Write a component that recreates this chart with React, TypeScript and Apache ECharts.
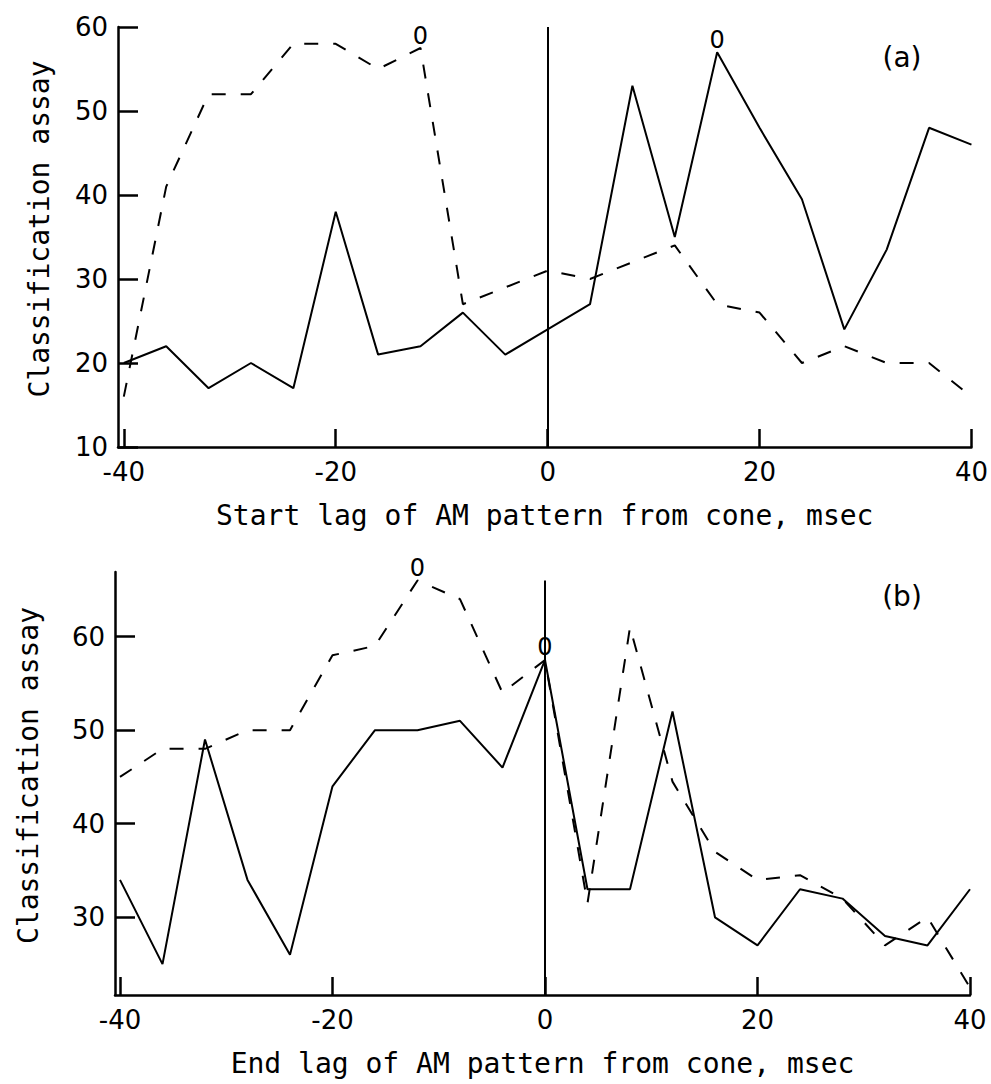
import React, { useEffect, useRef } from "react";
import * as echarts from "echarts";

// Lag values (msec), shared by both panels
const lags = [-40, -36, -32, -28, -24, -20, -16, -12, -8, -4, 0, 4, 8, 12, 16, 20, 24, 28, 32, 36, 40];
const xTicks = [-40, -20, 0, 20, 40];

// Panel (a): start lag
const startSolid = [20, 22, 17, 20, 17, 38, 21, 22, 26, 21, 24, 27, 53, 35, 57, 48, 39.5, 24, 33.5, 48, 46];
const startDashed = [16, 41, 52, 52, 58, 58, 55, 57.5, 27, 29, 31, 30, 32, 34, 27, 26, 20, 22, 20, 20, 16];
const startYTicks = [10, 20, 30, 40, 50, 60];

// Panel (b): end lag
const endSolid = [34, 25, 49, 34, 26, 44, 50, 50, 51, 46, 57.5, 33, 33, 52, 30, 27, 33, 32, 28, 27, 33];
const endDashed = [45, 48, 48, 50, 50, 58, 59, 66, 64, 54, 57.5, 31.5, 61, 44.5, 37, 34, 34.5, 32, 27, 30, 22.5];
const endYTicks = [30, 40, 50, 60];

// Points flagged with "0" (index into lags)
const startMarks = [
  { series: "dashed", idx: 7 },
  { series: "solid", idx: 14 },
];
const endMarks = [
  { series: "dashed", idx: 7 },
  { series: "solid", idx: 10 },
];

const pairs = (vals: number[]) => lags.map((x, i) => [x, vals[i]]);

const NUM_FONT = "DejaVu Sans";
const NAME_FONT = "DejaVu Sans Mono";

function xAxisCfg(gridIndex: number, min: number, name: string) {
  return {
    gridIndex,
    type: "value",
    min,
    max: 40,
    axisLine: { onZero: false, lineStyle: { color: "#000", width: 2.5 } },
    axisTick: { inside: true, length: 18, customValues: xTicks, lineStyle: { color: "#000", width: 2.5 } },
    axisLabel: { customValues: xTicks, fontFamily: NUM_FONT, fontSize: 26, color: "#000", margin: 12 },
    splitLine: { show: false },
    name,
    nameLocation: "middle",
    nameGap: 54,
    nameTextStyle: { fontFamily: NAME_FONT, fontSize: 28, color: "#000" },
  };
}

function yAxisCfg(gridIndex: number, min: number, max: number, ticks: number[], nameGap: number) {
  return {
    gridIndex,
    type: "value",
    min,
    max,
    axisLine: { onZero: false, lineStyle: { color: "#000", width: 2.5 } },
    axisTick: { inside: true, length: 20, customValues: ticks, lineStyle: { color: "#000", width: 2.5 } },
    axisLabel: { customValues: ticks, fontFamily: NUM_FONT, fontSize: 26, color: "#000", margin: 10 },
    splitLine: { show: false },
    name: "Classification assay",
    nameLocation: "middle",
    nameRotate: 90,
    nameGap,
    nameTextStyle: { fontFamily: NAME_FONT, fontSize: 28, color: "#000", padding: [0, 0, 0, 16] },
  };
}

function panelSeries(idx: number, solid: number[], dashed: number[], marks: { series: string; idx: number }[], y0: number, y1: number) {
  const lineBase = {
    type: "line",
    xAxisIndex: idx,
    yAxisIndex: idx,
    symbol: "none",
    silent: true,
  };
  return [
    {
      ...lineBase,
      name: "solid" + idx,
      data: pairs(solid),
      lineStyle: { color: "#000", width: 2 },
      markLine: {
        silent: true,
        symbol: ["none", "none"],
        label: { show: false },
        lineStyle: { color: "#000", width: 2, type: "solid" },
        data: [[{ coord: [0, y0] }, { coord: [0, y1] }]],
      },
    },
    {
      ...lineBase,
      name: "dashed" + idx,
      data: pairs(dashed),
      lineStyle: { color: "#000", width: 2, type: [14, 15] },
    },
    {
      type: "scatter",
      xAxisIndex: idx,
      yAxisIndex: idx,
      silent: true,
      symbolSize: 1,
      itemStyle: { color: "rgba(0,0,0,0)", opacity: 1 },
      data: marks.map((m) => [lags[m.idx], (m.series === "solid" ? solid : dashed)[m.idx]]),
      label: {
        show: true,
        position: "top",
        distance: 0,
        formatter: "0",
        fontFamily: NUM_FONT,
        fontSize: 24,
        color: "#000",
        opacity: 1,
      },
    },
  ];
}

export default function App() {
  const ref = useRef<HTMLDivElement>(null);
  useEffect(() => {
    if (!ref.current) return;
    const chart = echarts.init(ref.current, null, { renderer: "svg" });
    chart.setOption({
      animation: false,
      backgroundColor: "#fff",
      grid: [
        { left: 118, top: 27, width: 854, height: 420 },
        { left: 115, top: 572, width: 855, height: 423 },
      ],
      xAxis: [
        xAxisCfg(0, -40.55, "Start lag of AM pattern from cone, msec"),
        xAxisCfg(1, -40.47, "End lag of AM pattern from cone, msec"),
      ],
      yAxis: [yAxisCfg(0, 10, 60, startYTicks, 65), yAxisCfg(1, 21.7, 66.9, endYTicks, 73)],
      graphic: [
        {
          type: "text",
          x: 902,
          y: 57,
          style: { text: "(a)", font: `28px "${NUM_FONT}"`, fill: "#000", textAlign: "center", textVerticalAlign: "middle" },
        },
        {
          type: "text",
          x: 902,
          y: 596,
          style: { text: "(b)", font: `28px "${NUM_FONT}"`, fill: "#000", textAlign: "center", textVerticalAlign: "middle" },
        },
      ],
      series: [
        ...panelSeries(0, startSolid, startDashed, startMarks, 10, 60),
        ...panelSeries(1, endSolid, endDashed, endMarks, 21.7, 66),
      ],
    });
    return () => chart.dispose();
  }, []);
  return <div ref={ref} style={{ position: "absolute", left: 0, top: 0, width: 991, height: 1084 }} />;
}
